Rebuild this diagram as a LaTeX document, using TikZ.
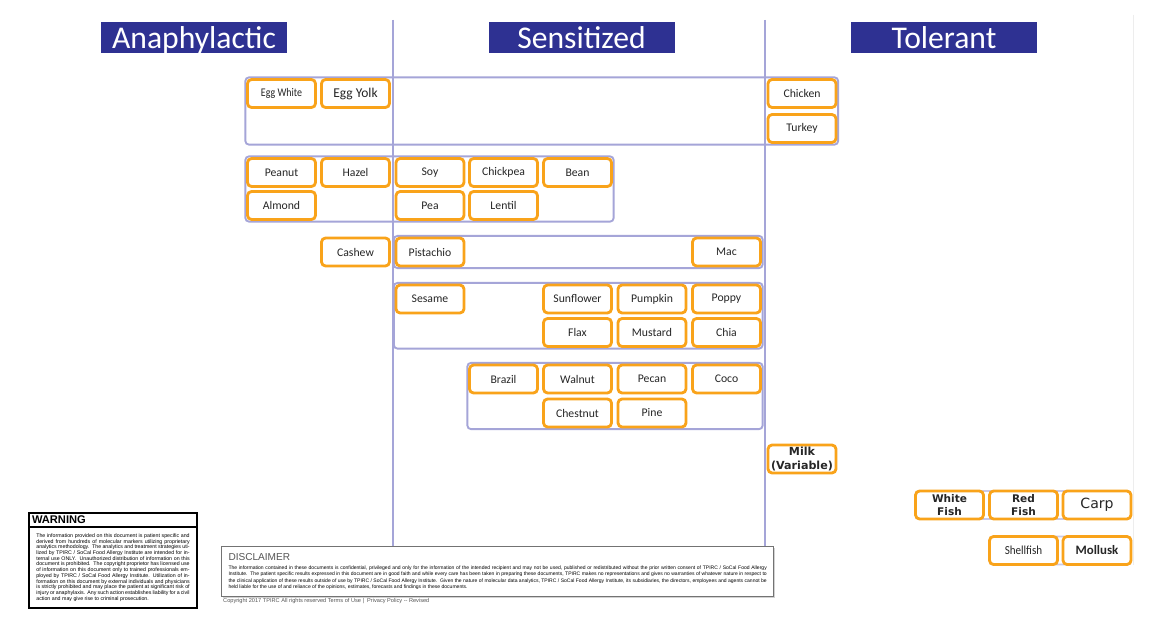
\documentclass[tikz,border=0pt]{standalone}
\usepackage{fontspec}
\setmainfont{Carlito}
\newfontfamily\fishfont{DejaVu Sans}
\newfontfamily\notefont{Liberation Sans}
\usetikzlibrary{positioning,fit,backgrounds,shadows}
\definecolor{alOrange}{HTML}{F9A31A}
\definecolor{alLav}{HTML}{A5A5D8}
\definecolor{alNavy}{HTML}{2E3192}
\definecolor{alGrey}{HTML}{555555}
\tikzset{
  food/.style     ={draw=alOrange,line width=2.4pt,rounded corners=3.5pt,fill=white,
                    minimum width=2.04cm,minimum height=0.84cm,inner sep=1pt,
                    align=center,text=black!85,font=\fontsize{10}{11}\selectfont},
  bigfood/.style  ={food,font=\fontsize{11.5}{12}\selectfont},
  fishfood/.style ={food,font=\fishfont\bfseries\fontsize{9}{10.5}\selectfont},
  grp/.style      ={draw=alLav,line width=1.6pt,rounded corners=3pt,inner sep=0.6pt},
  faintgrp/.style ={grp,draw=alLav!60,inner sep=-1.2pt},
  divider/.style  ={alLav,line width=1.6pt},
  hdr/.style      ={fill=alNavy,text=white,minimum width=5.58cm,minimum height=0.93cm,
                    inner sep=0pt,text height=20pt,text depth=1.5pt,
                    font=\fontsize{27}{28}\selectfont},
  warnhd/.style   ={text width=4.86cm,align=left,outer sep=0pt,minimum width=5.04cm,
                    minimum height=0.42cm,inner xsep=2pt,inner ysep=0pt,
                    font=\notefont\bfseries\fontsize{9.5}{10}\selectfont},
  warnbody/.style ={draw=black,line width=1.1pt,text width=4.6cm,align=justify,outer sep=0pt,
                    minimum width=5.04cm,minimum height=2.43cm,inner xsep=4pt,inner ysep=2pt,
                    font=\notefont\fontsize{4.5}{4.9}\selectfont},
  warnframe/.style={draw=black,line width=1.1pt,inner sep=0pt,outer sep=0pt},
  discbox/.style  ={draw=black!55,line width=0.8pt,fill=white,text width=16.15cm,
                    align=justify,minimum height=1.5cm,inner xsep=6pt,inner ysep=2pt,
                    drop shadow={opacity=0.35,shadow xshift=1.2pt,shadow yshift=-1.2pt},
                    font=\notefont\fontsize{4.3}{5.6}\selectfont},
  copy/.style     ={text=alGrey,inner sep=0pt,font=\notefont\fontsize{4.8}{5}\selectfont},
}

\begin{document}
\begin{tikzpicture}[x=0.03cm,y=-0.03cm]
\useasboundingbox (0,0) rectangle (1166,621);

% column headers
\node[hdr] (hAna) at (194,37.5)   {Anaphylactic};
\node[hdr] (hSen) at (581.5,37.5) {Sensitized};
\node[hdr] (hTol) at (944,37.5)   {Tolerant};

% food boxes
\foreach \n/\x/\y/\t in {Chicken/802/93.5/Chicken, Turkey/802/128.5/Turkey,
    Peanut/281.5/172.5/Peanut, Hazel/355.5/172.5/Hazel, Soy/430/172.5/Soy,
    Chickpea/503.5/172.5/Chickpea, Bean/577.5/172.5/Bean,
    Almond/281.5/205.5/Almond, Pea/430/205.5/Pea, Lentil/503.5/205.5/Lentil,
    Cashew/355.5/252/Cashew, Pistachio/430/252/Pistachio, Mac/726.5/252/Mac,
    Sesame/430/299/Sesame, Sunflower/577.5/299/Sunflower, Pumpkin/652/299/Pumpkin,
    Poppy/726.5/299/Poppy, Flax/577.5/332.5/Flax, Mustard/652/332.5/Mustard,
    Chia/726.5/332.5/Chia,
    Brazil/503.5/379/Brazil, Walnut/577.5/379/Walnut, Pecan/652/379/Pecan,
    Coco/726.5/379/Coco, Chestnut/577.5/413/Chestnut, Pine/652/413/Pine}
  \node[food] (\n) at (\x,\y) {\t};

\node[food] (EggWhite) at (281.5,93.5) {\scalebox{0.85}[1]{Egg White}};
\node[bigfood] (EggYolk) at (355.5,93.5) {Egg Yolk};
\node[fishfood,font=\fishfont\bfseries\fontsize{9.5}{11.5}\selectfont] (Milk) at (802,459) {Milk\\(Variable)};
\node[fishfood] (WhiteFish) at (949.5,505) {White\\Fish};
\node[fishfood] (RedFish) at (1023.5,505) {Red\\Fish};
\node[food,font=\fishfont\fontsize{12}{13}\selectfont] (Carp) at (1097,505) {Carp};
\node[food,font=\fontsize{10.5}{11}\selectfont] (Shellfish) at (1023.5,550.5) {\scalebox{0.9}[1]{Shellfish}};
\node[bigfood,font=\bfseries\fontsize{11}{12}\selectfont] (Mollusk) at (1097,550.5) {Mollusk};

% groups and column dividers
\begin{scope}[on background layer]
  \fill[white] (0,0) rectangle (1166,621);
  \node[grp,fit=(EggWhite)(Turkey)] (gEgg) {};
  \node[grp,fit=(Peanut)(Bean)(Almond)] (gLegume) {};
  \node[grp,fit=(Pistachio)(Mac)] (gCashew) {};
  \node[grp,fit=(Sesame)(Chia)] (gSeed) {};
  \node[grp,fit=(Brazil)(Coco)(Pine)] (gNut) {};
  \node[faintgrp,fit=(WhiteFish)(Carp)] (gFin) {};
  \node[faintgrp,fit=(Shellfish)(Mollusk)] (gShell) {};
  \draw[divider] (393,20) -- (393,547);
  \draw[divider] (765,20) -- (765,547);
  \draw[black!7,line width=0.8pt] (1133,15) -- (1133,565);
\end{scope}

% warning
\node[warnhd,anchor=north west] (warnhd) at (29,513) {WARNING};
\node[warnbody,anchor=north west] (warnbody) at (warnhd.south west)
  {The information provided on this document is patient specific and derived from hundreds
   of molecular markers utilizing proprietary analytics methodology.\ \ The analytics and
   treatment strategies utilized by TPIRC / SoCal Food Allergy Institute are intended for
   internal use ONLY.\ \ Unauthorized distribution of information on this document is
   prohibited.\ \ The copyright proprietor has licensed use of information on this document
   only to trained professionals employed by TPIRC / SoCal Food Allergy Institute.
   Utilization of information on this document by external individuals and physicians is
   strictly prohibited and may place the patient at significant risk of injury or
   anaphylaxis.\ \ Any such action establishes liability for a civil action and may give rise
   to criminal prosecution.};
\node[warnframe,fit=(warnhd)(warnbody)] (warn) {};

% disclaimer
\node[discbox,anchor=north west] (disc) at (221,546)
  {{\color{alGrey}\fontsize{8.6}{10}\selectfont DISCLAIMER}\par\vspace{2pt}
   The information contained in these documents is confidential, privileged and only for the
   information of the intended recipient and may not be used, published or redistributed
   without the prior written consent of TPIRC / SoCal Food Allergy Institute.\ \ The patient
   specific results expressed in this document are in good faith and while every care has
   been taken in preparing these documents, TPIRC makes no representations and gives no
   warranties of whatever nature in respect to the clinical application of these results
   outside of use by TPIRC / SoCal Food Allergy Institute.\ \ Given the nature of molecular
   data analytics, TPIRC / SoCal Food Allergy Institute, its subsidiaries, the directors,
   employees and agents cannot be held liable for the use of and reliance of the opinions,
   estimates, forecasts and findings in these documents.};
\node[copy,anchor=west] (copyr) at (223,601)
  {Copyright 2017 TPIRC All rights reserved Terms of Use |\ \ Privacy Policy -- Revised};
\end{tikzpicture}
\end{document}
